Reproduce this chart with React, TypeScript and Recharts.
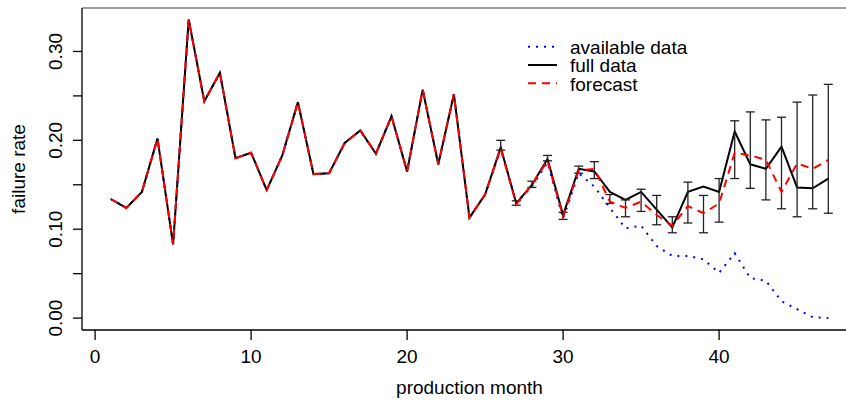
import {
  ErrorBar,
  Legend,
  Line,
  LineChart,
  ReferenceLine,
  XAxis,
  YAxis,
} from "recharts";

const months = [
  1, 2, 3, 4, 5, 6, 7, 8, 9, 10, 11, 12, 13, 14, 15, 16, 17, 18, 19, 20, 21, 22, 23, 24,
  25, 26, 27, 28, 29, 30, 31, 32, 33, 34, 35, 36, 37, 38, 39, 40, 41, 42, 43, 44, 45, 46, 47,
];

const fullData = [
  0.134, 0.124, 0.142, 0.202, 0.083, 0.336, 0.244, 0.276, 0.18, 0.186, 0.144, 0.183,
  0.243, 0.162, 0.163, 0.197, 0.211, 0.185, 0.227, 0.165, 0.257, 0.173, 0.252, 0.113,
  0.139, 0.192, 0.129, 0.15, 0.179, 0.116, 0.168, 0.165, 0.142, 0.133, 0.142, 0.122,
  0.102, 0.142, 0.148, 0.142, 0.21, 0.173, 0.168, 0.193, 0.147, 0.146, 0.157,
];

const availableData = [
  0.134, 0.124, 0.142, 0.202, 0.083, 0.336, 0.244, 0.276, 0.18, 0.186, 0.144, 0.183,
  0.243, 0.162, 0.163, 0.197, 0.211, 0.185, 0.227, 0.165, 0.257, 0.173, 0.252, 0.113,
  0.139, 0.19, 0.13, 0.148, 0.175, 0.112, 0.163, 0.148, 0.124, 0.101, 0.104, 0.081,
  0.07, 0.07, 0.066, 0.051, 0.073, 0.045, 0.042, 0.019, 0.01, 0.001, 0.0,
];

const forecastData = [
  0.134, 0.124, 0.142, 0.202, 0.083, 0.336, 0.244, 0.276, 0.18, 0.186, 0.144, 0.183,
  0.243, 0.162, 0.163, 0.197, 0.211, 0.185, 0.227, 0.165, 0.257, 0.173, 0.252, 0.113,
  0.139, 0.191, 0.128, 0.15, 0.177, 0.114, 0.166, 0.168, 0.131, 0.124, 0.131, 0.116,
  0.104, 0.126, 0.118, 0.129, 0.186, 0.183, 0.178, 0.142, 0.174, 0.168, 0.178,
];

// interval bounds, only from month 26 on
const lowerBound = [
  null, null, null, null, null, null, null, null, null, null, null, null, null, null,
  null, null, null, null, null, null, null, null, null, null, null,
  0.189, 0.127, 0.147, 0.177, 0.111, 0.163, 0.157, 0.129, 0.114, 0.12, 0.105, 0.096,
  0.107, 0.096, 0.108, 0.157, 0.146, 0.133, 0.123, 0.114, 0.123, 0.118,
];
const upperBound = [
  null, null, null, null, null, null, null, null, null, null, null, null, null, null,
  null, null, null, null, null, null, null, null, null, null, null,
  0.2, 0.132, 0.154, 0.183, 0.119, 0.171, 0.176, 0.139, 0.133, 0.145, 0.138, 0.114,
  0.153, 0.138, 0.157, 0.222, 0.232, 0.223, 0.226, 0.243, 0.251, 0.263,
];

const xTicks = [0, 10, 20, 30, 40];
const yTicks = [0, 0.05, 0.1, 0.15, 0.2, 0.25, 0.3];
const yLabelled = [0, 0.1, 0.2, 0.3];

const FONT = "'Liberation Sans', Arial, Helvetica, sans-serif";
const Y_MIN = -0.0134;
const Y_MAX = 0.3489;

const rows = months.map((m, i) => ({
  month: m,
  available: availableData[i],
  full: fullData[i],
  forecast: forecastData[i],
  lo: lowerBound[i],
  hi: upperBound[i],
}));

type Row = (typeof rows)[number];

const legendItems = [
  { label: "available data", color: "#0000ff", dash: "2 6" },
  { label: "full data", color: "#000000", dash: undefined },
  { label: "forecast", color: "#ff0000", dash: "8 6" },
];

function LegendBox() {
  return (
    <svg width={200} height={60} style={{ display: "block" }}>
      {legendItems.map((it, i) => {
        const cy = 10.7 + i * 18.3;
        return (
          <g key={it.label}>
            <line
              x1={4}
              x2={33}
              y1={cy}
              y2={cy}
              stroke={it.color}
              strokeWidth={2}
              strokeDasharray={it.dash}
            />
            <text x={46} y={cy + 7.3} fontFamily={FONT} fontSize={19} fill="#000">
              {it.label}
            </text>
          </g>
        );
      })}
    </svg>
  );
}

function YTick(props: any) {
  const { x, y, payload } = props;
  const v = payload.value as number;
  if (!yLabelled.some((t) => Math.abs(t - v) < 1e-9)) return <g />;
  const bx = x - 11;
  return (
    <text
      x={bx}
      y={y}
      transform={`rotate(-90 ${bx} ${y})`}
      textAnchor="middle"
      fontFamily={FONT}
      fontSize={19}
      fill="#000"
    >
      {v.toFixed(2)}
    </text>
  );
}

function XTick(props: any) {
  const { x, y, payload } = props;
  return (
    <text x={x} y={y + 23} textAnchor="middle" fontFamily={FONT} fontSize={19} fill="#000">
      {payload.value}
    </text>
  );
}

export default function App() {
  return (
    <div
      style={{
        position: "fixed",
        left: 0,
        top: 0,
        width: 846,
        height: 407,
        overflow: "hidden",
        background: "#fff",
      }}
    >
      <LineChart
        width={862}
        height={407}
        data={rows}
        margin={{ top: 8, right: 5, bottom: 17, left: 0 }}
      >
        <XAxis
          dataKey="month"
          type="number"
          domain={[-0.84, 48.84]}
          ticks={xTicks}
          allowDataOverflow
          height={60}
          tickSize={10}
          tickMargin={0}
          tick={<XTick />}
          stroke="#000"
          strokeWidth={1.3}
          label={{
            value: "production month",
            position: "insideBottom",
            offset: 0,
            dy: 4,
            fontFamily: FONT,
            fontSize: 19,
            fill: "#000",
          }}
        />
        <YAxis
          type="number"
          domain={[Y_MIN, Y_MAX]}
          ticks={yTicks}
          allowDataOverflow
          width={82}
          tickSize={9}
          tickMargin={0}
          tick={<YTick />}
          stroke="#000"
          strokeWidth={1.3}
          label={{
            value: "failure rate",
            angle: -90,
            position: "insideLeft",
            offset: 0,
            dx: 18,
            fontFamily: FONT,
            fontSize: 19,
            fill: "#000",
            style: { textAnchor: "middle" },
          }}
        />
        <ReferenceLine y={Y_MAX} stroke="#7f7f7f" strokeWidth={1.5} />
        <Legend
          layout="vertical"
          align="center"
          verticalAlign="middle"
          content={() => <LegendBox />}
          wrapperStyle={{ left: 524, top: 36, width: 200, height: 60 }}
        />
        <Line
          dataKey="available"
          stroke="#0000ff"
          strokeWidth={2}
          strokeDasharray="2 6"
          dot={false}
          activeDot={false}
          isAnimationActive={false}
        />
        <Line
          dataKey="full"
          stroke="#000"
          strokeWidth={2}
          dot={false}
          activeDot={false}
          isAnimationActive={false}
        />
        <Line
          dataKey="forecast"
          stroke="#ff0000"
          strokeWidth={2}
          strokeDasharray="8 6"
          dot={false}
          activeDot={false}
          isAnimationActive={false}
        >
          <ErrorBar
            dataKey={(d: Row) =>
              d.lo == null || d.hi == null ? null : [d.forecast - d.lo, d.hi - d.forecast]
            }
            direction="y"
            width={4.5}
            stroke="#222"
            strokeWidth={1.3}
          />
        </Line>
      </LineChart>
    </div>
  );
}
